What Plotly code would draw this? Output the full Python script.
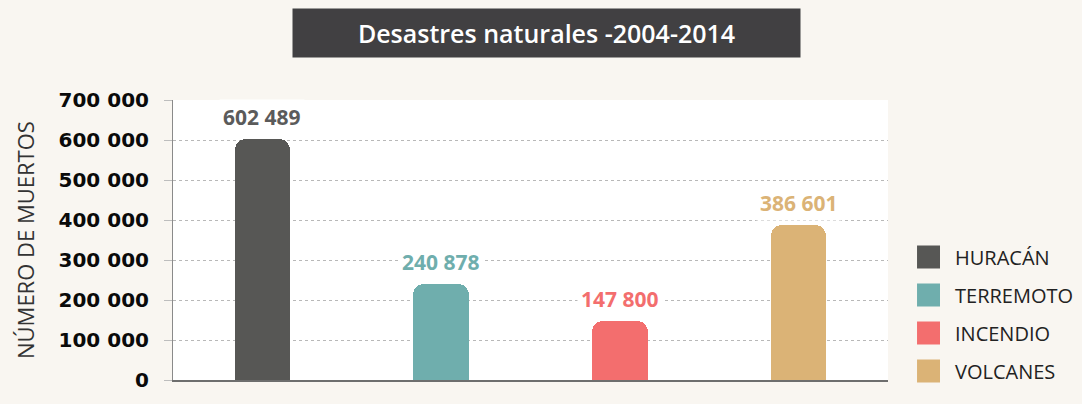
import plotly.graph_objects as go

# Deaths by type of natural disaster, 2004-2014
categories = ["HURACÁN", "TERREMOTO", "INCENDIO", "VOLCANES"]
deaths = [602489, 240878, 147800, 386601]
bar_colors = ["#575755", "#6faead", "#f36e6e", "#dbb376"]
label_colors = ["#5b5b5b", "#6faead", "#f36e6e", "#dbb376"]

y_ticks = [0, 100000, 200000, 300000, 400000, 500000, 600000, 700000]
y_tick_labels = ["0", "100 000", "200 000", "300 000", "400 000", "500 000", "600 000", "700 000"]

FONT = "Open Sans"
TICK_FONT = "DejaVu Sans"

fig = go.Figure()
fig.add_trace(go.Bar(
    x=categories,
    y=deaths,
    width=0.31,
    marker=dict(color=bar_colors, cornerradius=11, line=dict(width=0)),
    showlegend=False,
    hoverinfo="x+y",
))

# value labels above each bar (white backing hides the gridlines behind the text)
for cat, val, col in zip(categories, deaths, label_colors):
    fig.add_annotation(
        x=cat, y=val, xref="x", yref="y",
        text=f"{val:,}".replace(",", " "),
        showarrow=False, yanchor="bottom", yshift=4,
        bgcolor="#ffffff", borderpad=3,
        font=dict(family=FONT, size=21, color=col, weight="bold"),
    )

# legend: colour squares with labels at the right of the plot
leg_x0 = 1.0406
sq_w = 23 / 715
sq_h = 23 / 280
first_center = (380 - 257) / 280
step = 38 / 280
for i, (cat, col) in enumerate(zip(categories, bar_colors)):
    yc = first_center - i * step
    fig.add_shape(
        type="rect", xref="paper", yref="paper",
        x0=leg_x0, x1=leg_x0 + sq_w, y0=yc - sq_h / 2, y1=yc + sq_h / 2,
        fillcolor=col, line=dict(width=0),
    )
    fig.add_annotation(
        x=leg_x0 + 36 / 715, y=yc, xref="paper", yref="paper",
        text=cat, showarrow=False, xanchor="left", yanchor="middle",
        font=dict(family=FONT, size=20, color="#222222"),
    )

# title banner
fig.add_annotation(
    x=(546.5 - 173) / 715, y=(380 - 33) / 280, xref="paper", yref="paper",
    text="Desastres naturales -2004-2014", showarrow=False,
    xanchor="center", yanchor="middle",
    width=507, height=48, bgcolor="#414042", borderpad=0,
    font=dict(family=FONT, size=25, color="#ffffff", weight=600),
)

# y-axis title
fig.add_annotation(
    x=(25 - 173) / 715, y=0.5, xref="paper", yref="paper",
    text="NÚMERO DE MUERTOS", textangle=-90, showarrow=False,
    xanchor="center", yanchor="middle",
    font=dict(family=FONT, size=22, color="#333333"),
)

fig.update_layout(
    width=1082, height=404,
    margin=dict(l=173, r=194, t=100, b=24),
    paper_bgcolor="#f9f6f1",
    plot_bgcolor="#ffffff",
    bargap=0,
    font=dict(family=FONT),
    xaxis=dict(
        showticklabels=False, showgrid=False, zeroline=False,
        showline=True, linecolor="#6e6e6e", linewidth=2,
        fixedrange=True,
    ),
    yaxis=dict(
        range=[0, 700000],
        tickvals=y_ticks, ticktext=y_tick_labels,
        tickfont=dict(family=TICK_FONT, size=20, color="#0a0a0a", weight="bold"),
        ticks="outside", ticklen=8, tickcolor="#bdbdbd", tickwidth=1,
        ticklabelstandoff=11,
        showgrid=True, gridcolor="#b8b8b8", griddash="3px,3px", gridwidth=1,
        zeroline=False,
        showline=True, linecolor="#8a8a8a", linewidth=1,
        fixedrange=True,
    ),
)

fig.write_html("out.html")
